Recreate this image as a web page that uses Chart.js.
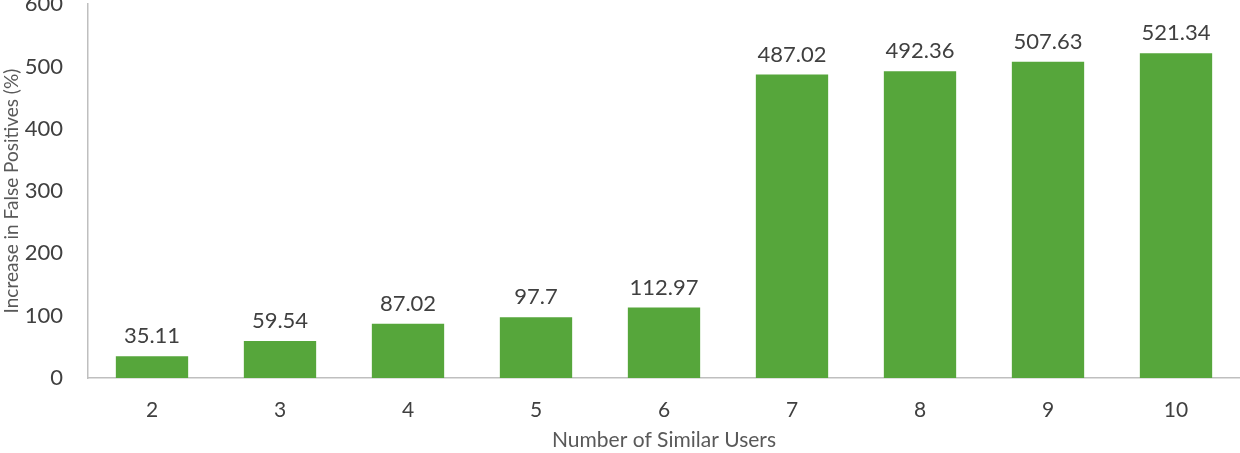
<!DOCTYPE html>
<html>
<head>
<meta charset="utf-8">
<script src="https://cdn.jsdelivr.net/npm/chart.js@4.4.0/dist/chart.umd.min.js"></script>
<style>
  html, body { margin: 0; padding: 0; background: #fff; }
  #wrap { position: relative; width: 1240px; height: 453px; overflow: hidden; }
  #box { position: absolute; left: 0; top: -34px; width: 1240px; height: 487px; }
</style>
</head>
<body>
<div id="wrap"><div id="box"><canvas id="c" width="1240" height="487"></canvas></div></div>
<script>
const categories = ["2", "3", "4", "5", "6", "7", "8", "9", "10"];
const increaseFP = [35.11, 59.54, 87.02, 97.7, 112.97, 487.02, 492.36, 507.63, 521.34];
const valueLabels = ["35.11", "59.54", "87.02", "97.7", "112.97", "487.02", "492.36", "507.63", "521.34"];
const yTicks = [0, 100, 200, 300, 400, 500, 600];

const FONT = "Lato, 'Open Sans', sans-serif";

const labelPlugin = {
  id: 'barLabels',
  afterDatasetsDraw(chart) {
    const ctx = chart.ctx;
    const meta = chart.getDatasetMeta(0);
    ctx.save();
    ctx.font = "22px " + FONT;
    ctx.fillStyle = "#404040";
    ctx.textAlign = "center";
    ctx.textBaseline = "middle";
    meta.data.forEach((bar, i) => {
      ctx.fillText(valueLabels[i], bar.x, bar.y - 20);
    });
    ctx.restore();
  }
};

new Chart(document.getElementById('c'), {
  type: 'bar',
  data: {
    labels: categories,
    datasets: [{
      data: increaseFP,
      backgroundColor: '#56a63b',
      borderWidth: 0,
      categoryPercentage: 1.0,
      barPercentage: 0.565
    }]
  },
  plugins: [labelPlugin],
  options: {
    responsive: false,
    animation: false,
    devicePixelRatio: 1,
    layout: { padding: { top: 8, right: 0, left: 0, bottom: 0 } },
    plugins: { legend: { display: false }, tooltip: { enabled: false } },
    scales: {
      x: {
        grid: { display: false, drawTicks: false },
        border: { display: true, color: '#bfbfbf', width: 1.5 },
        ticks: { color: '#404040', font: { family: FONT, size: 21 }, padding: 20 },
        title: { display: true, text: 'Number of Similar Users', color: '#595959', font: { family: FONT, size: 21 }, padding: { top: 4, bottom: 0 } },
        afterFit(scale) { scale.height = 75; }
      },
      y: {
        min: 0, max: 600,
        afterBuildTicks(scale) { scale.ticks = yTicks.map(v => ({ value: v })); },
        grid: { display: false, drawTicks: false },
        border: { display: true, color: '#bfbfbf', width: 1.5 },
        ticks: { color: '#404040', font: { family: FONT, size: 22 }, padding: 25 },
        title: { display: true, text: 'Increase in False Positives (%)', color: '#595959', font: { family: FONT, size: 19 }, padding: 0 },
        afterFit(scale) { scale.width = 88; }
      }
    }
  }
});
</script>
</body>
</html>
